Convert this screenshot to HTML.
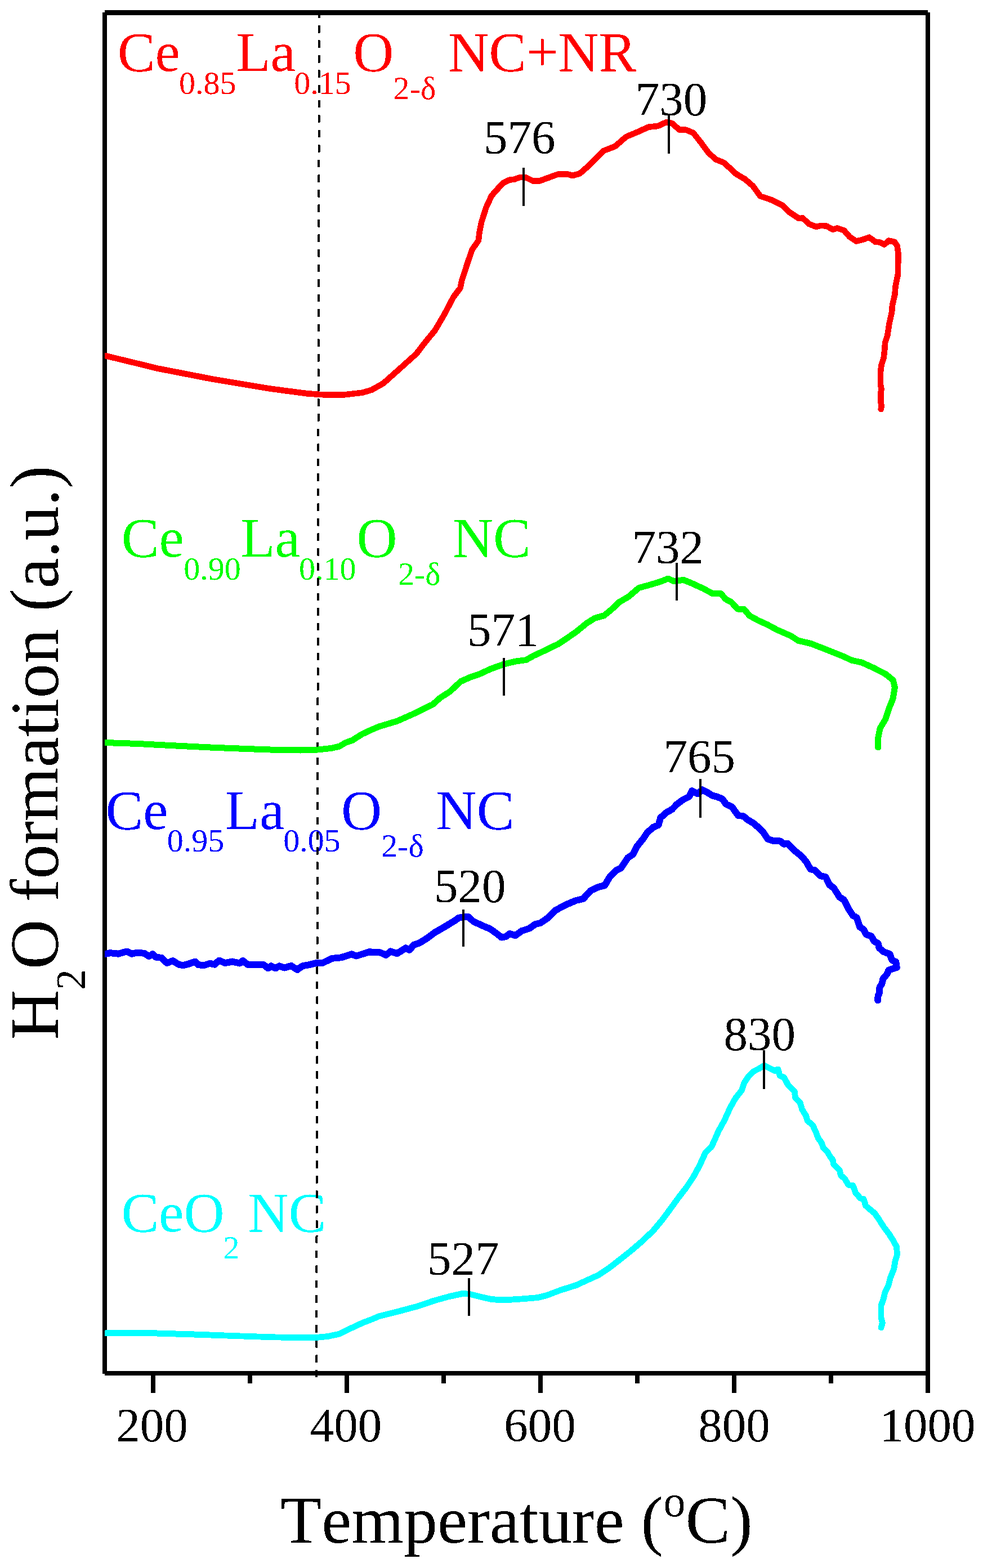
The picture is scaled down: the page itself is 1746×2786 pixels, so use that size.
<!DOCTYPE html>
<html lang="en">
<head>
<meta charset="utf-8">
<title>H2O formation vs Temperature</title>
<style>
html,body{margin:0;padding:0;background:#fff;}
body{width:1746px;height:2786px;overflow:hidden;}
svg{display:block;}
text{filter:url(#px);white-space:pre;font-family:"Liberation Serif","DejaVu Serif",serif;font-kerning:none;font-variant-ligatures:none;font-feature-settings:"kern" 0,"liga" 0;}
.ax{fill:#000;stroke:none;shape-rendering:crispEdges;}
.cv{fill:none;filter:url(#px);stroke-linejoin:round;stroke-linecap:round;}
.pk{font-size:85px;fill:#000;}
.tk{font-size:85px;fill:#000;text-anchor:middle;}
.lb{font-size:100px;}
.sb{font-size:58px;}
</style>
</head>
<body>
<svg width="1746" height="2786" viewBox="0 0 1746 2786">
<rect x="0" y="0" width="1746" height="2786" fill="#ffffff"/>
<defs><clipPath id="plot"><rect x="186" y="22" width="1462" height="2418"/></clipPath>
<filter id="px" x="-5%" y="-5%" width="110%" height="110%" color-interpolation-filters="sRGB"><feComponentTransfer><feFuncA type="discrete" tableValues="0 1"/></feComponentTransfer></filter>
<filter id="pxd" filterUnits="userSpaceOnUse" x="550" y="0" width="30" height="2500" color-interpolation-filters="sRGB"><feComponentTransfer><feFuncA type="discrete" tableValues="0 1"/></feComponentTransfer></filter></defs>
<g class="ax">
<rect x="186" y="18" width="1462" height="9"/>
<rect x="186" y="2436" width="1462" height="8"/>
<rect x="182" y="22" width="8" height="2419"/>
<rect x="1644" y="22" width="8" height="2453"/>
<rect x="268" y="2440" width="8" height="35"/>
<rect x="612" y="2440" width="8" height="35"/>
<rect x="956" y="2440" width="8" height="35"/>
<rect x="1300" y="2440" width="8" height="35"/>
<rect x="440" y="2440" width="8" height="18"/>
<rect x="784" y="2440" width="8" height="18"/>
<rect x="1128" y="2440" width="8" height="18"/>
<rect x="1472" y="2440" width="8" height="18"/>
</g>
<text class="lb" fill="#ff0000" y="126.3"><tspan x="208.8" y="126.3">Ce</tspan><tspan x="318.1" y="166.5" class="sb">0.85</tspan><tspan x="419.4" y="126.3">La</tspan><tspan x="522.3" y="166.5" class="sb">0.15</tspan><tspan x="627.3" y="126.3">O</tspan><tspan x="698.6" y="175.5" class="sb">2-δ</tspan><tspan x="771.1" y="126.3"> NC+NR</tspan></text>
<text class="lb" fill="#00ff00" y="989.4"><tspan x="215.8" y="989.4">Ce</tspan><tspan x="326.3" y="1029.6" class="sb">0.90</tspan><tspan x="427.4" y="989.4">La</tspan><tspan x="531.1" y="1029.6" class="sb">0.10</tspan><tspan x="633.5" y="989.4">O</tspan><tspan x="706.9" y="1038.6" class="sb">2-δ</tspan><tspan x="778.7" y="989.4"> NC</tspan></text>
<text class="lb" fill="#0000ff" y="1472.9"><tspan x="187.5" y="1472.9">Ce</tspan><tspan x="296.7" y="1513.1" class="sb">0.95</tspan><tspan x="399.8" y="1472.9">La</tspan><tspan x="503.2" y="1513.1" class="sb">0.05</tspan><tspan x="606.1" y="1472.9">O</tspan><tspan x="677.3" y="1522.1" class="sb">2-δ</tspan><tspan x="749.5" y="1472.9"> NC</tspan></text>
<text class="lb" fill="#00ffff" y="2187.6"><tspan x="215.4" y="2187.6">CeO</tspan><tspan x="396.4" y="2235.6" class="sb">2</tspan><tspan x="415.4" y="2187.6"> NC</tspan></text>
<text class="pk" x="859.1" y="273.4">576</text>
<text class="pk" x="1128.7" y="205.3">730</text>
<text class="pk" x="830.1" y="1148.1">571</text>
<text class="pk" x="1122.5" y="1001.2">732</text>
<text class="pk" x="771.1" y="1603.2">520</text>
<text class="pk" x="1178.6" y="1373.3">765</text>
<text class="pk" x="759" y="2264.5">527</text>
<text class="pk" x="1285.5" y="1866.3">830</text>
<line x1="567.04" y1="18.4" x2="561.98" y2="2447" stroke="#000" stroke-width="4" stroke-dasharray="13.5 13.045" fill="none" filter="url(#pxd)"/>
<g clip-path="url(#plot)">
<polyline class="cv" stroke="#ff0000" stroke-width="10.6" points="186.6,632.0 229.6,642.3 279.2,654.5 378.4,673.7 477.6,690.2 543.8,699.1 576.8,701.5 609.9,701.5 643.0,697.8 659.5,693.0 681.3,680.8 706.1,658.6 739.2,628.9 755.7,607.4 772.3,587.5 788.8,559.4 805.3,528.0 817.6,511.5 820.2,498.3 830.1,468.5 838.4,443.7 850.0,427.2 851.6,412.3 854.9,395.7 863.2,369.3 873.1,347.8 886.4,332.9 894.6,324.6 904.5,319.7 914.5,318.4 924.4,314.7 934.3,315.4 945.9,321.3 959.1,321.3 974.0,315.7 990.5,309.8 1007.0,309.1 1017.0,312.1 1030.2,308.1 1043.4,296.5 1049.6,290.8 1072.8,267.6 1092.6,260.0 1112.4,242.8 1132.3,234.6 1152.1,225.6 1168.7,224.0 1183.5,217.0 1193.5,219.0 1206.7,230.6 1218.3,230.6 1231.5,236.2 1244.7,252.8 1257.9,270.9 1271.2,283.2 1286.0,289.1 1307.5,309.0 1324.1,318.9 1337.3,330.5 1350.5,348.6 1370.4,355.3 1390.2,365.2 1401.8,376.8 1418.8,388.0 1425.8,387.5 1436.7,397.9 1449.6,402.8 1458.5,400.8 1468.5,401.8 1479.4,407.8 1487.3,405.4 1499.2,409.4 1509.1,420.7 1521.0,428.6 1532.9,425.6 1543.8,421.7 1554.8,429.6 1562.7,430.6 1570.6,434.6 1578.6,427.6 1588.5,429.6 1593.5,436.5 1595.4,449.4 1595.0,487.1 1590.5,509.0 1589.5,522.9 1584.9,542.7 1584.1,554.6 1579.6,574.4 1576.2,596.3 1572.2,608.2 1571.0,624.0 1569.6,636.0 1565.7,647.9 1563.9,661.7 1563.9,683.6 1565.7,691.5 1564.3,697.5 1564.3,713.3 1565.7,721.3 1564.7,727.2"/>
<polyline class="cv" stroke="#00ff00" stroke-width="11" points="186.6,1319.6 246.1,1321.6 312.3,1324.9 378.4,1328.2 444.6,1330.8 494.2,1332.5 533.8,1333.1 563.6,1332.1 590.0,1329.2 603.3,1325.9 613.2,1319.9 626.4,1315.0 643.0,1304.4 659.5,1296.8 673.1,1291.0 706.1,1281.1 739.2,1266.2 769.0,1251.3 782.2,1239.7 798.7,1229.2 818.6,1210.6 835.1,1203.4 851.6,1197.7 871.5,1188.5 894.6,1180.2 914.5,1175.3 934.3,1172.6 947.5,1165.3 967.4,1156.1 990.5,1144.8 1007.1,1133.9 1023.6,1122.4 1041.8,1107.5 1056.7,1098.2 1073.2,1093.6 1086.4,1082.7 1099.7,1070.0 1116.3,1060.3 1134.7,1044.5 1152.9,1039.5 1172.8,1033.6 1186.6,1028.0 1197.6,1032.9 1214.1,1030.3 1232.3,1037.9 1248.8,1045.5 1265.3,1054.4 1280.2,1054.4 1288.5,1064.3 1298.4,1069.3 1310.0,1081.9 1321.6,1082.5 1331.5,1094.1 1348.0,1103.0 1364.5,1110.6 1381.1,1119.5 1404.2,1129.5 1417.5,1138.1 1440.6,1143.7 1463.8,1152.6 1496.8,1165.8 1513.4,1173.4 1529.9,1176.8 1549.7,1185.7 1572.9,1197.6 1586.1,1208.2 1589.4,1221.4 1586.1,1241.2 1579.5,1257.8 1572.9,1277.6 1563.0,1294.1 1559.7,1310.7 1559.7,1328.0"/>
<polyline class="cv" stroke="#0000ff" stroke-width="12" points="186.6,1695.2 195.9,1693.1 210.4,1694.7 225.0,1690.5 234.2,1694.7 243.5,1692.6 256.7,1693.9 264.7,1699.2 271.3,1695.2 276.6,1700.5 287.1,1701.9 296.4,1711.1 307.0,1707.1 317.6,1713.8 325.5,1715.1 336.1,1712.4 346.7,1708.5 352.0,1714.3 362.5,1715.1 373.1,1711.6 381.1,1713.8 389.0,1706.6 399.6,1711.1 412.8,1708.5 426.0,1711.6 431.3,1707.1 440.6,1714.3 452.5,1713.8 468.4,1714.3 476.3,1720.4 481.6,1716.4 489.5,1720.4 496.1,1716.4 505.4,1719.6 517.3,1715.9 527.9,1723.0 537.1,1716.4 550.4,1713.8 563.6,1710.6 573.2,1710.8 589.8,1702.9 606.3,1701.2 624.5,1695.3 632.8,1698.6 655.9,1691.3 675.7,1692.6 685.7,1696.9 693.9,1690.3 705.5,1694.3 720.4,1684.4 727.0,1688.0 735.3,1678.7 745.2,1675.4 758.4,1667.2 771.6,1657.2 791.5,1645.7 808.0,1635.7 814.6,1630.8 831.2,1628.5 841.1,1637.4 857.6,1645.0 870.8,1650.6 882.4,1658.9 890.7,1665.5 899.0,1663.8 905.6,1658.9 915.5,1662.2 927.1,1653.9 940.3,1649.6 950.2,1642.4 960.1,1639.7 973.4,1630.8 986.6,1617.6 1003.1,1608.6 1023.0,1600.0 1035.9,1596.9 1049.1,1582.4 1062.3,1576.3 1074.2,1573.1 1083.5,1557.2 1094.1,1546.7 1103.3,1541.9 1115.2,1524.2 1124.5,1517.6 1131.1,1504.3 1141.7,1491.1 1149.6,1479.2 1160.2,1469.9 1169.5,1466.0 1173.4,1452.8 1184.0,1443.5 1193.3,1438.2 1202.5,1428.9 1213.1,1421.0 1223.7,1415.7 1229.0,1405.1 1239.6,1410.4 1247.5,1403.3 1258.1,1409.1 1266.0,1413.9 1274.0,1415.7 1283.2,1419.7 1289.8,1428.9 1300.4,1434.2 1311.0,1448.8 1320.3,1450.1 1328.2,1456.7 1337.5,1462.0 1346.7,1469.9 1356.0,1479.2 1363.9,1491.1 1374.5,1494.3 1386.4,1494.6 1391.9,1499.7 1398.8,1498.7 1411.7,1511.6 1422.7,1520.5 1431.6,1530.4 1439.5,1544.3 1447.5,1546.3 1457.4,1556.2 1466.3,1558.2 1473.3,1572.1 1481.2,1578.1 1491.1,1593.9 1499.0,1598.9 1507.0,1614.8 1514.9,1626.7 1521.9,1630.6 1526.8,1646.5 1533.8,1651.5 1538.7,1660.4 1547.7,1663.4 1552.6,1672.3 1559.6,1676.3 1561.5,1684.2 1569.5,1691.2 1580.4,1695.1 1584.4,1706.0 1591.3,1709.0 1592.7,1718.9 1586.3,1720.9 1578.4,1723.9 1575.4,1730.8 1568.5,1738.8 1566.5,1747.7 1562.5,1754.6 1562.1,1763.6 1559.6,1769.5 1559.2,1777.5"/>
<polyline class="cv" stroke="#00ffff" stroke-width="10.8" points="186.6,2369.0 229.6,2368.3 279.2,2369.0 345.3,2371.0 411.5,2373.3 477.6,2375.6 527.2,2376.9 560.3,2376.6 583.4,2374.3 603.3,2370.0 619.8,2361.7 643.0,2350.8 659.5,2344.5 673.1,2338.8 706.1,2330.5 739.2,2321.6 772.3,2310.6 798.7,2303.4 821.9,2298.4 835.1,2299.4 855.0,2304.4 871.5,2308.3 891.3,2310.0 921.1,2308.3 954.2,2305.7 970.7,2301.7 997.1,2291.8 1023.6,2283.5 1043.4,2274.3 1063.3,2265.3 1083.1,2252.1 1103.0,2236.5 1119.8,2223.1 1139.7,2206.2 1159.5,2187.4 1175.4,2168.5 1189.3,2149.7 1205.2,2127.9 1219.0,2110.0 1231.0,2092.1 1242.9,2070.3 1252.8,2048.5 1263.7,2037.6 1268.7,2026.7 1276.6,2008.8 1286.5,1991.0 1296.4,1969.1 1306.3,1951.3 1317.3,1937.4 1322.2,1923.5 1330.2,1911.6 1338.1,1903.7 1348.0,1898.7 1357.4,1893.3 1367.0,1898.0 1375.7,1902.5 1382.0,1899.8 1385.0,1911.0 1393.0,1914.7 1399.7,1927.7 1411.4,1939.8 1412.6,1950.5 1421.0,1958.8 1424.5,1970.7 1431.7,1982.6 1434.0,1991.0 1443.6,1999.3 1449.5,2012.4 1453.1,2021.9 1459.0,2030.2 1462.6,2039.8 1469.8,2046.9 1474.5,2055.2 1479.3,2061.2 1480.5,2068.3 1491.2,2079.0 1493.6,2088.6 1500.7,2094.5 1506.7,2105.2 1515.0,2106.4 1519.8,2119.5 1528.1,2129.0 1534.0,2130.2 1537.6,2142.1 1546.0,2149.3 1554.3,2156.4 1561.4,2167.1 1569.8,2180.2 1578.1,2191.0 1586.4,2204.0 1592.4,2214.8 1593.6,2229.0 1590.0,2241.0 1587.6,2255.2 1581.7,2269.5 1578.1,2283.8 1572.1,2295.7 1568.6,2310.0 1565.0,2319.5 1565.0,2341.0 1567.4,2350.5 1565.0,2358.8"/>
</g>
<rect class="ax" x="928" y="298" width="4" height="68"/>
<rect class="ax" x="1186" y="205" width="4" height="68"/>
<rect class="ax" x="893" y="1169" width="4" height="67"/>
<rect class="ax" x="1200" y="1000" width="4" height="67"/>
<rect class="ax" x="821" y="1616" width="4" height="66"/>
<rect class="ax" x="1242" y="1384" width="4" height="69"/>
<rect class="ax" x="831" y="2271" width="4" height="67"/>
<rect class="ax" x="1355" y="1866" width="4" height="69"/>
<text class="tk" x="270" y="2561.2">200</text>
<text class="tk" x="614.5" y="2561.2">400</text>
<text class="tk" x="959" y="2561.2">600</text>
<text class="tk" x="1304" y="2561.2">800</text>
<text class="tk" x="1647.6" y="2561.2">1000</text>
<text x="498.3" y="2741" font-size="119.5" fill="#000">Temperature (<tspan font-size="78" dy="-47.5">o</tspan><tspan dy="47.5">C)</tspan></text>
<text transform="translate(102.9 1847.5) rotate(-90)" font-size="123" fill="#000">H<tspan font-size="73" dy="48">2</tspan><tspan dy="-48">O formation (a.u.)</tspan></text>
</svg>
</body>
</html>
